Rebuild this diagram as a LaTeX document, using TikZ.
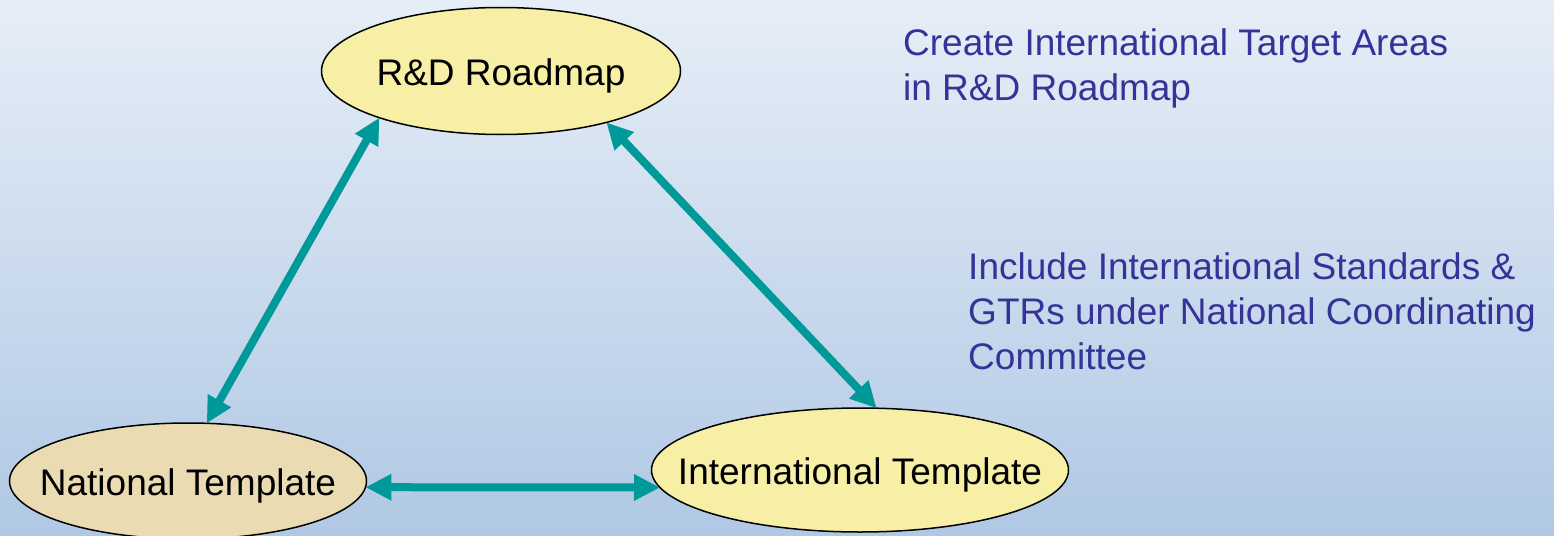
\documentclass[tikz,border=0pt]{standalone}
\usepackage{fontspec}
\setmainfont{Liberation Sans}
\usetikzlibrary{shapes.geometric,arrows.meta}
\definecolor{bgtop}{RGB}{230,238,247}
\definecolor{bgbot}{RGB}{176,200,228}
\definecolor{fillyel}{RGB}{247,239,166}
\definecolor{filltan}{RGB}{234,219,179}
\definecolor{teal2}{RGB}{0,153,153}
\definecolor{txtblue}{RGB}{51,51,153}
\newcommand{\ztext}[1]{\raisebox{-5pt}[\height][\depth]{\makebox[0pt][c]{#1}}}
\tikzset{
  oval/.style={ellipse, draw=black, line width=1.5pt, inner sep=0pt, outer sep=0pt,
    font=\fontsize{37}{44}\selectfont},
  link/.style={teal2, line width=8pt, {Triangle[length=26pt,width=25pt]}-{Triangle[length=26pt,width=25pt]}},
  note/.style={anchor=base west, align=left, inner sep=0pt, text=txtblue,
    font=\fontsize{37}{45}\selectfont}
}
\begin{document}
\begin{tikzpicture}[x=1pt,y=-1pt]
\shade[top color=bgtop, bottom color=bgbot] (0,0) rectangle (1554,535);
\useasboundingbox (0,0) rectangle (1554,535);
\node[oval, fill=fillyel, minimum width=359pt, minimum height=127pt] (rd) at (501,71) {\ztext{R\&D Roadmap}};
\node[oval, fill=filltan, minimum width=357pt, minimum height=116pt] (nt) at (188,481) {\ztext{National Template}};
\node[oval, fill=fillyel, minimum width=417pt, minimum height=124pt] (it) at (860,470) {\ztext{International Template}};
\draw[link] (rd.201) -- (nt.72);
\draw[link] (rd.334) -- (it.75);
\draw[link] (nt.358) -- (it.185);
\node[note] (n1) at (903,100) {Create International Target Areas\\in R\&D Roadmap};
\node[note] (n2) at (968,369) {Include International Standards \&\\GTRs under National Coordinating\\Committee};
\end{tikzpicture}
\end{document}
